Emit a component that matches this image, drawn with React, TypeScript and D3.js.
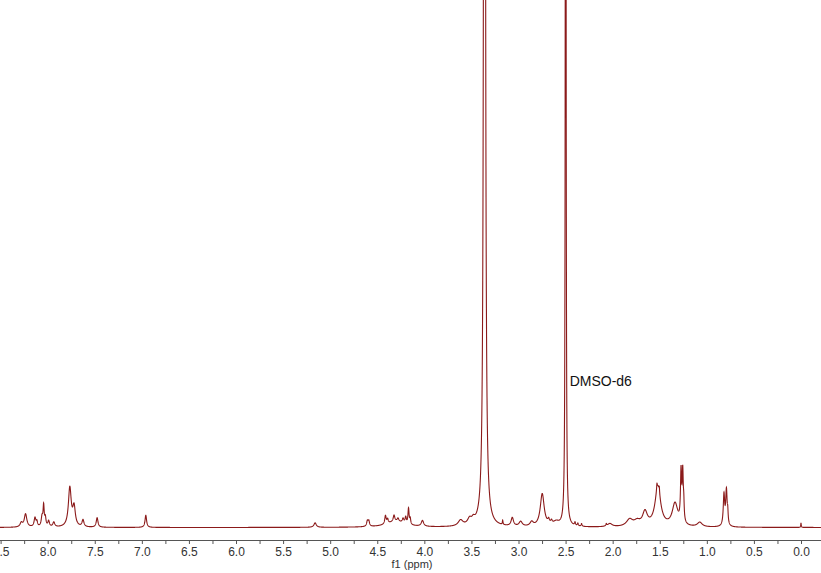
import React, { useRef, useEffect } from 'react';
import * as d3 from 'd3';

// 1H NMR spectrum (DMSO-d6) - peaks
// shift in ppm, height in intensity units (0..100 = baseline..top of plot), half-width in ppm
const peakShift = [
  8.28, 8.235, 8.135, 8.115, 8.06, 8.043, 8.025, 7.99, 7.935, 7.765, 7.72, 7.625, 7.475, 6.958,
  5.16, 4.605, 4.59, 4.3, 4.413, 4.39, 4.322, 4.28, 4.226, 4.198, 4.168, 4.15, 4.02,
  3.615, 3.52, 3.48, 3.361, 3.168, 3.066, 2.977, 2.86, 2.748, 2.68, 2.65, 2.6, 2.499,
  2.4, 2.37, 2.33, 2.068, 2.03, 1.82, 1.74, 1.657, 1.52, 1.53, 1.505, 1.338, 1.274, 1.256,
  1.245, 1.075, 0.818, 0.792, 0.778, 0.0,
];
const peakHeight = [
  0.8, 2.5, 1.7, 0.9, 1.8, 3.8, 1.6, 1.1, 0.9, 7.4, 3.6, 1.3, 1.8, 2.3,
  0.85, 1.0, 1.0, 1.1, 1.6, 0.8, 1.2, 0.6, 0.8, 1.2, 3.0, 1.1, 1.1,
  1.1, 1.1, 0.8, 720, 0.8, 1.6, 0.9, 0.8, 6.2, 0.8, 0.6, 0.8, 380,
  0.6, 0.5, 0.5, 0.4, 0.6, 1.3, 0.9, 2.6, 7.4, 1.1, 1.1, 4.3, 9.3, 9.3,
  2.8, 0.85, 5.9, 6.7, 1.9, 0.85,
];
const peakWidth = [
  0.015, 0.016, 0.011, 0.008, 0.01, 0.007, 0.008, 0.01, 0.012, 0.018, 0.016, 0.012, 0.011, 0.01,
  0.015, 0.009, 0.009, 0.12, 0.009, 0.008, 0.01, 0.01, 0.01, 0.008, 0.007, 0.006, 0.015,
  0.03, 0.025, 0.02, 0.005, 0.004, 0.015, 0.02, 0.02, 0.025, 0.01, 0.01, 0.04, 0.003,
  0.006, 0.006, 0.006, 0.005, 0.03, 0.04, 0.04, 0.03, 0.036, 0.004, 0.004, 0.035, 0.007, 0.007,
  0.005, 0.03, 0.009, 0.009, 0.005, 0.003,
];

const xTicks = d3.range(0, 35).map(i => 8.5 - i * 0.25);
const solventLabel = 'DMSO-d6';
const solventShift = 2.499;

export default function App() {
  const svgRef = useRef<SVGSVGElement>(null);

  useEffect(() => {
    if (!svgRef.current) return;
    const svg = d3.select(svgRef.current);
    svg.selectAll('*').remove();

    const width = 821;
    const height = 573;
    const axisY = 540;

    const x = d3.scaleLinear().domain([8.5, 0]).range([0.6, 801]);
    const y = d3.scaleLinear().domain([0, 100]).range([527.5, 0]);

    const lo = x.invert(width);
    const hi = x.invert(0);
    const pts: [number, number][] = [];
    for (let p = hi; p >= lo; p -= 0.0008) {
      let v = 0;
      for (let i = 0; i < peakShift.length; i++) {
        const d = p - peakShift[i];
        const w = peakWidth[i];
        v += peakHeight[i] * w * w / (d * d + w * w);
      }
      pts.push([p, v]);
    }

    const line = d3.line<[number, number]>()
      .x(d => x(d[0]))
      .y(d => y(d[1]));

    svg.append('path')
      .datum(pts)
      .attr('d', line)
      .attr('fill', 'none')
      .attr('stroke', '#8b1a1a')
      .attr('stroke-width', 1.1);

    const axis = d3.axisBottom(x)
      .tickValues(xTicks)
      .tickSize(4)
      .tickSizeOuter(0)
      .tickFormat(d => (Math.round(+d * 100) % 50 === 0 ? d3.format('.1f')(+d) : ''));

    const g = svg.append('g')
      .attr('transform', `translate(0,${axisY})`)
      .call(axis);
    g.select('.domain').attr('stroke', '#555').attr('d', `M0,0.5H${width}`);
    g.selectAll('.tick line').attr('stroke', '#555');
    g.selectAll('.tick text')
      .attr('fill', '#333')
      .attr('y', 7)
      .style('font-family', '"Liberation Sans", Arial, sans-serif')
      .style('font-size', '12px');

    svg.append('text')
      .attr('x', 412)
      .attr('y', 568)
      .attr('text-anchor', 'middle')
      .attr('fill', '#333')
      .style('font-family', '"Liberation Sans", Arial, sans-serif')
      .style('font-size', '11px')
      .text('f1 (ppm)');

    svg.append('text')
      .attr('x', x(solventShift) + 4)
      .attr('y', 386)
      .attr('fill', '#111')
      .style('font-family', '"Liberation Sans", Arial, sans-serif')
      .style('font-size', '14px')
      .text(solventLabel);

    svg.attr('width', width).attr('height', height);
  }, []);

  return (
    <svg
      ref={svgRef}
      style={{ position: 'absolute', left: 0, top: 0, background: '#fff' }}
    />
  );
}
